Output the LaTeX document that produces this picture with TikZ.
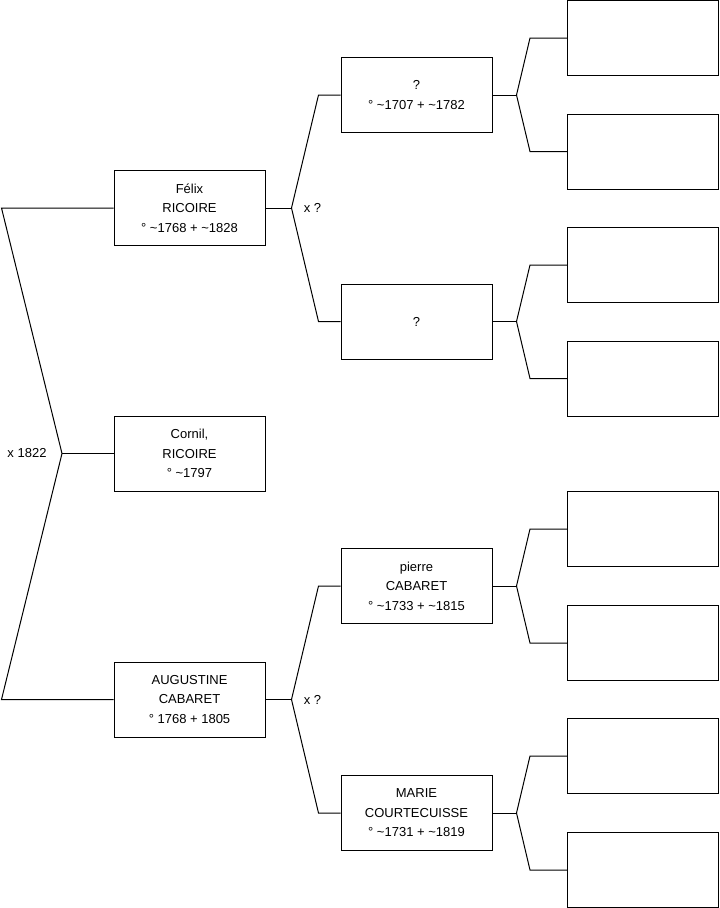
\documentclass[tikz,border=0pt]{standalone}
\usepackage{fontspec}
\setmainfont{Liberation Sans}
\usetikzlibrary{calc}

\begin{document}
\begin{tikzpicture}[x=0.75pt,y=-0.75pt,line width=0.75pt,font=\fontsize{9.75}{14.6}\selectfont,
    person/.style={draw,minimum width=113.25pt,minimum height=56.25pt,inner sep=0pt,align=center}]
    \useasboundingbox (0,0) rectangle (719,908);
    % first generation
    \node[person] (felix) at (189.5,208) {Félix\\RICOIRE\\° \textasciitilde1768 + \textasciitilde1828};
    \node[person] (cornil) at (189.5,453.5) {Cornil,\\RICOIRE\\° \textasciitilde1797};
    \node[person] (augustine) at (189.5,699.5) {AUGUSTINE\\CABARET\\° 1768 + 1805};
    % parents
    \node[person] (q1) at (416.5,95) {?\\° \textasciitilde1707 + \textasciitilde1782};
    \node[person] (q2) at (416.5,321.5) {?};
    \node[person] (pierre) at (416.5,586) {pierre\\CABARET\\° \textasciitilde1733 + \textasciitilde1815};
    \node[person] (marie) at (416.5,813) {MARIE\\COURTECUISSE\\° \textasciitilde1731 + \textasciitilde1819};
    % grandparents, left empty
    \foreach \y [count=\i] in {38,151.5,265,378.5,529,643,756,870}
    {
        \node[person] (g\i) at (643,\y) {};
    }
    % marriage of felix and augustine
    \coordinate (m0) at (62,453.5);
    \draw (felix.west) -- ++(-112,0) -- (m0) -- ($(augustine.west)+(-112,0)$) -- (augustine.west);
    \draw (m0) -- (cornil.west);
    \node (x0) at (27,453.5) {x 1822};
    % their parents
    \foreach \p/\a/\b in {felix/q1/q2,augustine/pierre/marie}
    {
        \draw (\p.east) -- ++(26,0);
        \draw (\a.west) -- ++(-22,0) -- ($(\p.east)+(26,0)$) -- ($(\b.west)+(-22,0)$) -- (\b.west);
        \node (x\p) at ($(\p.east)+(47,0)$) {x ?};
    }
    \foreach \p/\a/\b in {q1/g1/g2,q2/g3/g4,pierre/g5/g6,marie/g7/g8}
    {
        \draw (\p.east) -- ++(24,0);
        \draw (\a.west) -- ++(-37,0) -- ($(\p.east)+(24,0)$) -- ($(\b.west)+(-37,0)$) -- (\b.west);
    }
\end{tikzpicture}
\end{document}
